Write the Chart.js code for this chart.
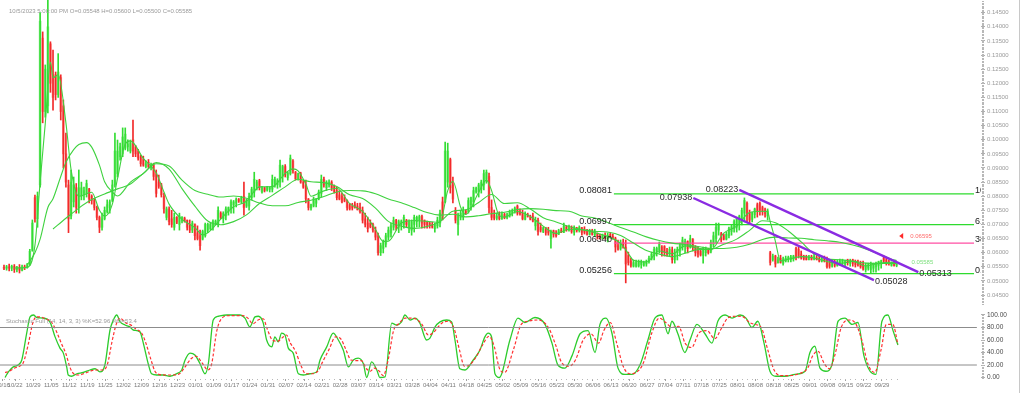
<!DOCTYPE html>
<html><head><meta charset="utf-8">
<script src="https://cdn.jsdelivr.net/npm/chart.js@4.4.1/dist/chart.umd.min.js"></script>
<style>
html,body{margin:0;padding:0;background:#fff;width:1024px;height:393px;overflow:hidden;}
#wrap{position:relative;width:1024px;height:393px;}
#c1{position:absolute;left:0;top:0;}
#c2{position:absolute;left:0;top:305px;}
#edge{position:absolute;left:1019px;top:0;width:1px;height:393px;background:#c8c8c8;}
</style></head><body>
<div id="wrap"><canvas id="c1" width="1024" height="305"></canvas><canvas id="c2" width="1024" height="88"></canvas><div id="edge"></div></div>
<script>
// ---------------- DATA (prices in units of 0.0001) ----------------
const opens = [
548,545,550,545,552,540,548,538,550,548,
558,608,795,720,840,1360,1100,1120,1340,1230,
1230,1160,1220,1120,950,840,730,780,830,760,
800,810,810,825,800,785,760,725,690,720,
745,760,785,840,880,940,950,970,975,960,
1000,975,960,940,930,905,920,900,910,880,
850,840,800,725,755,720,690,725,700,712,
722,715,700,680,700,670,660,648,660,680,
685,690,700,700,740,720,730,745,755,770,
775,790,780,800,765,765,795,815,835,855,
815,830,822,825,825,845,840,850,870,905,
865,880,925,885,860,880,850,840,790,758,
765,775,790,810,860,830,840,850,835,820,
805,800,795,785,770,765,770,765,760,750,
720,705,705,700,680,660,600,615,630,655,
670,690,715,690,700,700,715,690,680,700,
710,715,728,715,710,705,700,685,695,705,
780,780,850,930,840,750,700,725,725,748,
745,770,780,815,815,825,840,860,870,760,
735,722,735,720,735,725,730,740,745,765,
745,740,718,735,725,730,695,715,690,675,
688,680,650,678,670,665,680,672,692,680,
690,672,688,678,688,680,675,665,675,663,
668,660,650,662,648,665,658,650,625,615,
635,620,590,570,552,552,553,558,555,560,
568,578,590,605,610,620,622,605,595,610,
575,600,605,620,630,640,620,648,622,615,
605,590,600,612,605,630,650,680,668,660,
648,660,675,685,690,705,720,740,775,740,
718,735,770,775,760,752,730,600,575,588,
565,580,562,570,575,575,578,615,612,595,
588,585,575,585,576,582,580,570,580,575,
565,552,565,555,560,565,560,575,562,575,
568,565,562,560,540,545,540,545,550,555,
560,582,575,568,555,565,554.8];
const highs = [
556,555,560,556,558,552,558,556,556,562,
612,716,804,815,1450,1382,1265,1520,1347,1318,
1240,1305,1230,1141,1024,857,893,868,845,893,
850,832,857,828,805,792,765,730,740,762,
787,787,857,1024,999,988,1042,1042,1000,999,
1070,980,966,945,942,925,930,917,917,893,
875,846,811,762,762,750,740,728,740,728,
726,716,716,712,702,695,680,680,705,705,
705,716,716,762,745,745,762,762,787,785,
794,792,800,850,790,811,832,885,857,860,
835,832,835,832,875,868,862,928,910,912,
885,946,930,888,882,885,857,857,792,772,
797,792,822,875,868,855,858,855,840,832,
820,811,805,787,775,775,780,775,776,762,
740,726,716,705,691,669,634,645,669,691,
705,726,718,716,716,733,718,716,716,733,
730,733,733,716,712,708,708,705,726,751,
797,992,988,935,868,760,740,751,762,752,
794,797,832,832,846,857,893,893,882,787,
751,740,745,745,740,740,751,755,762,769,
755,751,745,740,733,740,726,723,705,691,
690,690,680,680,678,683,687,705,696,698,
695,695,690,695,690,692,683,683,683,683,
670,666,666,670,670,670,666,655,645,645,
648,645,602,581,574,574,574,574,570,574,
588,602,620,620,638,625,625,615,620,620,
613,620,634,655,648,642,662,650,625,620,
615,620,620,615,645,673,705,705,672,666,
673,691,698,716,726,733,758,794,780,751,
744,758,776,780,765,758,755,605,595,591,
584,591,584,588,588,591,591,620,620,606,
591,591,591,591,595,591,588,588,588,584,
574,574,574,574,577,577,574,577,577,577,
574,574,570,570,563,563,567,563,567,570,
574,588,581,574,567,570,560];
const lows = [
540,538,535,536,530,532,528,535,540,545,
555,605,708,690,832,1060,1080,1095,1168,1105,
1141,1150,1070,900,832,671,720,762,740,740,
787,787,797,776,772,751,716,671,680,716,
740,740,780,832,868,928,940,964,960,953,
940,940,928,906,906,900,900,893,857,797,
828,797,740,716,698,690,680,703,680,705,
708,680,671,671,645,645,609,645,655,671,
680,680,698,691,720,705,716,733,740,740,
762,778,776,733,760,751,787,797,822,822,
811,815,818,815,815,832,828,832,850,868,
857,875,882,857,857,846,828,776,751,751,
762,762,787,797,832,820,832,820,811,787,
787,776,780,751,751,751,758,751,740,705,
691,673,688,673,645,591,590,599,620,645,
655,680,680,671,680,687,691,671,662,673,
691,691,687,687,687,687,687,673,687,691,
716,776,832,811,776,705,662,716,716,736,
740,751,762,811,797,811,822,846,740,716,
716,716,716,718,720,720,726,730,740,733,
733,716,716,726,716,709,680,662,673,671,
662,662,616,655,655,664,671,671,676,676,
669,662,673,673,662,666,662,662,662,657,
648,648,648,648,638,652,648,602,609,609,
616,493,556,549,549,549,549,545,552,552,
563,574,574,588,599,588,588,588,588,563,
563,574,588,609,599,599,616,606,588,584,
588,563,588,595,599,620,634,662,638,645,
645,652,662,673,673,680,698,709,709,705,
709,723,726,733,733,726,716,556,570,549,
563,563,556,567,567,567,570,574,581,577,
574,574,574,574,574,574,567,567,567,545,
545,549,549,552,556,556,552,556,552,552,
549,552,545,538,531,538,527,531,531,538,
545,563,556,556,552,552,550];
const closes = [
545,550,545,552,540,548,538,550,548,558,
605,705,720,800,1420,1100,1250,1400,1200,1150,
1160,1240,1100,950,850,720,850,840,760,830,
830,820,845,790,785,760,725,690,720,750,
770,780,840,960,960,975,1010,1020,985,990,
960,950,935,915,910,915,905,912,870,810,
835,805,755,755,710,700,725,708,730,725,
712,690,680,705,660,650,625,675,700,700,
700,710,712,750,725,740,755,760,780,780,
790,782,795,760,785,800,825,860,850,830,
830,820,832,830,860,860,855,910,905,875,
882,935,890,862,880,850,832,790,760,770,
790,790,815,860,840,850,850,830,815,795,
790,780,785,760,755,758,760,752,745,715,
700,685,692,680,655,600,625,640,660,680,
695,715,695,710,712,725,700,710,710,725,
725,728,705,700,698,695,690,700,715,740,
725,960,960,830,790,715,730,740,750,740,
785,795,820,828,840,850,880,885,760,725,
722,730,720,735,725,735,745,750,758,740,
738,720,735,728,718,712,715,675,680,688,
670,670,675,665,660,678,672,695,680,692,
675,690,678,690,672,672,665,676,665,675,
655,652,662,652,662,655,650,620,612,630,
618,560,565,555,565,565,566,568,565,570,
580,595,612,615,630,600,600,595,612,575,
600,612,625,645,640,615,650,620,600,595,
592,615,615,600,635,660,690,700,645,648,
665,685,692,710,720,728,750,785,730,715,
740,755,745,750,745,738,748,565,588,560,
578,565,578,580,583,585,588,585,590,582,
578,575,585,577,588,576,570,580,570,550,
552,565,555,568,572,575,570,565,572,562,
558,556,550,545,555,558,560,560,562,568,
572,570,565,560,562,555,558.5];

// moving averages: [bar, price*1e4]
const maFast = [[4,546],[9,548],[12,627],[14,850],[16,1058],[18,1274],[19,1220],[21,1230],[24,1060],[26,894],[29,800],[34,814],[37,750],[39,729],[42,772],[44,862],[47,985],[49,996],[54,934],[59,882],[62,815],[64,772],[69,718],[74,689],[77,663],[79,670],[84,719],[89,763],[94,782],[99,833],[104,834],[109,881],[112,897],[114,890],[117,843],[119,800],[124,819],[129,828],[134,774],[139,746],[144,682],[147,640],[149,641],[154,705],[159,714],[164,711],[169,708],[172,820],[174,853],[177,761],[179,735],[184,814],[187,857],[189,820],[192,731],[194,726],[199,746],[204,728],[209,694],[214,668],[219,683],[224,681],[229,671],[234,657],[239,633],[242,597],[244,573],[249,567],[254,606],[259,596],[264,624],[269,616],[274,611],[279,669],[284,694],[289,742],[294,747],[296,745],[297,709],[298,677],[299,640],[301,571],[304,577],[309,586],[314,581],[319,569],[324,562],[329,569],[334,553],[339,562],[344,566],[346,560]];
const maMid = [[9,556],[12,600],[14,648],[17,760],[19,791],[22,870],[24,920],[27,965],[29,983],[32,990],[34,974],[37,910],[39,851],[42,815],[44,801],[49,850],[54,880],[59,919],[64,896],[69,827],[74,765],[79,712],[84,699],[89,710],[94,734],[99,774],[104,803],[109,833],[114,860],[119,851],[124,848],[129,834],[134,805],[139,792],[144,758],[149,711],[154,694],[159,686],[164,693],[169,710],[174,747],[179,752],[184,778],[189,806],[194,774],[199,777],[204,755],[209,724],[214,709],[219,693],[224,682],[229,676],[234,673],[239,661],[244,634],[249,608],[254,595],[259,586],[264,598],[269,611],[274,612],[279,630],[284,648],[289,679],[294,713],[299,706],[304,677],[309,638],[314,596],[319,578],[324,575],[329,570],[334,563],[339,562],[346,562]];
const maSlow = [[19,684],[24,722],[29,758],[34,788],[39,808],[44,826],[49,843],[54,881],[59,915],[64,907],[69,857],[74,820],[79,807],[84,797],[89,801],[94,793],[99,776],[104,766],[109,766],[114,778],[119,786],[124,799],[129,815],[134,820],[139,819],[144,809],[149,790],[154,777],[159,760],[164,742],[169,733],[174,736],[179,727],[184,731],[189,738],[194,743],[199,753],[204,756],[209,754],[214,749],[219,747],[224,730],[229,723],[234,707],[239,689],[244,673],[249,656],[254,643],[259,634],[264,629],[269,622],[274,615],[279,615],[284,619],[289,630],[294,647],[299,655],[304,652],[309,651],[314,646],[319,642],[324,637],[329,627],[334,613],[339,595],[344,577],[346,572]];

// stochastic full (14,14,3,3): [bar, value]
const stochK = [[0.4,0],[1.7,9],[3.6,17],[5.5,20],[6.9,28],[8.8,71],[10.1,97],[11.4,100],[12.7,96],[15.2,95],[17.8,89],[19.8,65],[21.7,47],[23,39],[24.3,17],[24.9,4],[26.2,2],[28.2,6],[30.7,8],[33.3,12],[35.3,14],[37.2,9],[39.1,20],[41.1,76],[42.4,92],[43.7,100],[45,89],[46.9,84],[48.8,81],[50.1,76],[52.7,73],[54,55],[55.9,22],[57.2,6],[59.2,4],[61.7,4],[64.3,2],[66.9,6],[68.9,12],[70.2,28],[72.1,39],[74,36],[76,22],[77.9,6],[79.2,22],[81.1,92],[83.1,98],[86.3,100],[91.5,100],[93.4,95],[95.3,81],[97.3,97],[98.6,98],[100.5,87],[101.8,60],[103.8,49],[105,65],[106.3,57],[107.6,71],[108.9,68],[110.2,47],[112.1,39],[114.1,6],[116,4],[118.6,6],[121.2,9],[122.5,28],[125.1,49],[127.6,71],[129.6,60],[131.5,44],[133.5,17],[135.4,28],[137.3,31],[139.3,22],[140.6,0],[142.5,25],[144.5,12],[145.7,0],[147.7,1],[150.3,87],[152.2,84],[154.1,89],[155.4,100],[157.4,92],[159.3,95],[161.2,87],[163.8,60],[165.1,63],[167.1,81],[169,89],[171.6,92],[173.5,89],[174.8,60],[176.7,14],[178.7,12],[181.9,28],[184.5,44],[186.4,65],[187.7,71],[189,65],[190.3,6],[192,0],[196.1,60],[199.2,95],[201.9,88],[205.8,96],[209.7,85],[212.4,55],[214.7,20],[217.4,15],[220.2,35],[223.3,70],[226.4,75],[229.1,40],[231,85],[233.3,95],[235.7,70],[238,15],[240.7,5],[243.4,5],[246.5,20],[249.6,60],[252.3,95],[255,100],[257.4,70],[258.9,90],[261.2,70],[263.9,40],[265.9,60],[268.6,85],[271.7,70],[274.4,55],[276.7,90],[279.5,100],[282.2,95],[285.3,100],[287.6,95],[289.9,80],[292.2,90],[294.6,55],[296.9,10],[299.2,2],[302.7,2],[306.6,5],[310.5,10],[312.4,40],[314.3,50],[316.3,15],[318.6,10],[320.9,20],[323.3,90],[326,95],[328.7,85],[331,88],[333.3,35],[335.7,10],[338,5],[340.3,90],[342.6,100],[344.6,75],[346.5,52]];
const stochD = [[0.4,8],[2,10],[4,15],[6,18],[7.5,24],[9.5,55],[11,85],[12.5,97],[14,97],[16,94],[18.5,88],[20.5,72],[22.5,52],[24,38],[25.5,17],[27,6],[29,4],[31.5,7],[34,11],[36,12],[38,12],[40,20],[42,60],[43.5,85],[45,95],[47,88],[49.5,83],[51,78],[53.5,70],[55,55],[57,28],[58.5,10],[60,5],[63,4],[65.5,4],[68,6],[70,16],[72.5,30],[74.5,34],[77,22],[79,12],[80.5,22],[82.5,75],[84.5,95],[87.5,99],[92.5,99],[94.5,95],[96.5,86],[98.5,92],[100.5,94],[102,78],[104,60],[106,58],[108,64],[109.5,68],[111,55],[113,42],[115,20],[117,6],[119.5,6],[122,12],[123.5,25],[126,45],[128.5,65],[130.5,62],[132.5,45],[134.5,28],[136.5,27],[138.5,27],[140.5,14],[142,10],[143.5,15],[145.5,10],[147,3],[149,30],[151,75],[153,86],[155.5,95],[157.5,95],[160,93],[162,85],[164.5,68],[166.5,72],[168.5,82],[170.5,89],[172.5,90],[174.5,78],[176.5,45],[178.5,18],[180.5,20],[183,33],[185.5,52],[188,66],[190,50],[192,15],[194,8],[197.5,45],[200.5,85],[203,90],[207,92],[211,80],[214,50],[216,25],[219,18],[221.5,28],[224.5,60],[227.5,70],[230.5,55],[232.5,75],[235,88],[237.5,55],[240,18],[242.5,6],[245,8],[248,25],[251,70],[254,95],[256.5,88],[259,80],[261.5,82],[264,55],[266.5,48],[269.5,72],[272.5,75],[275.5,62],[278,78],[280.5,95],[283.5,98],[286.5,97],[289,88],[291,85],[293.5,80],[296,45],[298.5,12],[301,3],[304,3],[308,6],[311.5,15],[313.5,35],[315.5,42],[318,22],[320,14],[322,35],[324.5,80],[327.5,92],[330,87],[332.5,60],[335,20],[337.5,8],[340,45],[342,85],[344.5,85],[346.5,53.4]];

// fibonacci retracement drawn on the chart
const fibLevels = [0.08081, 0.06997, 0.06340, 0.05256];
const fibNames = ['100.0', '61.8', '38.2', '0.0'];
const fibColors = ['#2edb2e', '#2edb2e', '#ff4fa3', '#2edb2e'];
const fibStartBar = 236.4, fibEndBar = 376;

// parallel trend channel
const trendStartBar = [267.2, 285], trendStartPrice = [0.07938, 0.08223];
const trendEndBar = [337.2, 354.4], trendEndPrice = [0.05028, 0.05313];

// markers
const alertBar = 347, alertPrice = 0.06595;
const lastLabelBar = 351.8, lastPrice = 0.05585;

// axis ticks and labels
const priceTicks = [0.045,0.05,0.055,0.06,0.065,0.07,0.075,0.08,0.085,0.09,0.095,0.1,0.105,0.11,0.115,0.12,0.125,0.13,0.135,0.14,0.145];
const stochTicks = [0,20,40,60,80,100];
const dateLabels = ['10/16','10/22','10/29','11/05','11/12','11/19','11/25','12/02','12/09','12/16','12/23','01/01','01/09','01/17','01/24','01/31','02/07','02/14','02/21','02/28','03/07','03/14','03/21','03/28','04/04','04/11','04/18','04/25','05/02','05/09','05/16','05/23','05/30','06/06','06/13','06/20','06/27','07/04','07/11','07/18','07/25','08/01','08/08','08/18','08/25','09/01','09/08','09/15','09/22','09/29'];
const dateLabelBars = [-0.6,4.3,11.3,18.3,25.3,32.3,39.3,46.3,53.3,60.3,67.3,74.3,81.3,88.3,95.3,102.3,109.3,116.3,123.3,130.3,137.3,144.3,151.3,158.3,165.3,172.3,179.3,186.3,193.3,200.3,207.3,214.3,221.3,228.3,235.3,242.3,249.3,256.3,263.3,270.3,277.3,284.3,291.3,298.3,305.3,312.3,319.3,326.3,333.3,340.3];

const headerText = '10/5/2023 5:00:00 PM O=0.05548 H=0.05600 L=0.05500 C=0.05585';
const stochHeader = 'Stochastic Full (14, 14, 3, 3) %K=52.96 %D=53.4';

// ---------------- BUILD ----------------
const X_MIN = -1.55, X_MAX = 378.7;
const P = v => v / 10000;
const isUp = i => closes[i] >= opens[i];
const wickData = closes.map((c, i) => ({x: i, y: [P(lows[i]), P(highs[i])]}));
const bodyData = closes.map((c, i) => ({x: i, y: [P(Math.min(opens[i], c)), P(Math.max(opens[i], c))]}));
const maLine = (arr) => arr.map(([b, v]) => ({x: b, y: P(v)}));
const SMALL = '"Liberation Sans", Arial, sans-serif';

const datasets = [
  {type: 'bar', data: bodyData, grouped: false, barThickness: 2, order: 3,
   backgroundColor: ctx => isUp(ctx.dataIndex) ? '#93ee93' : '#ff9a9a', borderWidth: 0},
  {type: 'bar', data: wickData, grouped: false, barThickness: 1, order: 2,
   backgroundColor: ctx => isUp(ctx.dataIndex) ? '#33dd33' : '#f22a2a', borderWidth: 0},
];
[maFast, maMid, maSlow].forEach(m => datasets.push({type: 'line', data: maLine(m), borderColor: '#3fd23f', borderWidth: 1.1,
  pointRadius: 0, cubicInterpolationMode: 'monotone', order: 1}));
fibLevels.forEach((lv, i) => datasets.push({type: 'line', data: [{x: fibStartBar, y: lv}, {x: fibEndBar, y: lv}],
  borderColor: fibColors[i], borderWidth: 1.3, pointRadius: 0, order: 1}));
trendStartBar.forEach((b, i) => datasets.push({type: 'line', data: [{x: b, y: trendStartPrice[i]}, {x: trendEndBar[i], y: trendEndPrice[i]}],
  borderColor: '#8a2be2', borderWidth: 2.4, pointRadius: 0, order: 0}));

const mainOverlay = {
  id: 'mainOverlay',
  afterDatasetsDraw(chart) {
    const {ctx, chartArea: a, scales: {x, y}} = chart;
    ctx.save();
    ctx.fillStyle = '#b8b8b8';
    for (let v = 0.0420; v <= 0.1495; v += 0.0005) {
      ctx.fillRect(a.right + 1, Math.round(y.getPixelForValue(v)), 2, 1);
    }
    ctx.font = '6px ' + SMALL; ctx.fillStyle = '#9a9a9a'; ctx.textAlign = 'left'; ctx.textBaseline = 'middle';
    ctx.fillText(headerText, 9, 11);
    ctx.save();
    ctx.beginPath(); ctx.rect(a.left, a.top, a.right - a.left, a.bottom - a.top); ctx.clip();
    ctx.font = '9px ' + SMALL; ctx.fillStyle = '#222'; ctx.textBaseline = 'alphabetic';
    fibLevels.forEach((lv, i) => {
      const py = y.getPixelForValue(lv);
      ctx.textAlign = 'right'; ctx.fillText(lv.toFixed(5), x.getPixelForValue(fibStartBar) - 2, py - 1);
      ctx.textAlign = 'left'; ctx.fillText(fibNames[i], x.getPixelForValue(fibEndBar) + 1, py - 1);
    });
    ctx.restore();
    ctx.font = '9px ' + SMALL; ctx.fillStyle = '#2a2a2a'; ctx.textBaseline = 'middle';
    trendStartBar.forEach((b, i) => {
      ctx.textAlign = 'right';
      ctx.fillText(trendStartPrice[i].toFixed(5), x.getPixelForValue(b) - 1, y.getPixelForValue(trendStartPrice[i]));
      ctx.textAlign = 'left';
      ctx.fillText(trendEndPrice[i].toFixed(5), x.getPixelForValue(trendEndBar[i]) + 1, y.getPixelForValue(trendEndPrice[i]) + 1);
    });
    const ax = x.getPixelForValue(alertBar), ay = y.getPixelForValue(alertPrice);
    ctx.fillStyle = '#ff2a2a';
    ctx.beginPath(); ctx.moveTo(ax, ay); ctx.lineTo(ax + 4, ay - 3); ctx.lineTo(ax + 4, ay + 3); ctx.closePath(); ctx.fill();
    ctx.font = '6px ' + SMALL; ctx.fillStyle = '#ff6a6a'; ctx.textAlign = 'left';
    ctx.fillText(alertPrice.toFixed(5), ax + 11, ay);
    ctx.fillStyle = '#7fe07f';
    ctx.fillText(lastPrice.toFixed(5), x.getPixelForValue(lastLabelBar), y.getPixelForValue(lastPrice) - 2);
    ctx.restore();
  }
};

new Chart(document.getElementById('c1'), {
  type: 'bar',
  data: {datasets},
  options: {
    responsive: false, animation: false, events: [],
    layout: {padding: 0},
    plugins: {legend: {display: false}, tooltip: {enabled: false}},
    scales: {
      x: {type: 'linear', min: X_MIN, max: X_MAX, offset: false, display: false},
      y: {type: 'linear', position: 'right', min: 0.04147, max: 0.1495,
          afterFit(s) { s.width = 43; s.paddingTop = 0; s.paddingBottom = 0; },
          afterBuildTicks(s) { s.ticks = priceTicks.map(v => ({value: v})); },
          ticks: {autoSkip: false, callback: v => Number(v).toFixed(5), font: {size: 6, family: SMALL}, color: '#9a9a9a', padding: 2},
          grid: {drawOnChartArea: false, tickLength: 4, color: '#b0b0b0'},
          border: {display: false}}
    }
  },
  plugins: [mainOverlay]
});

const stochOverlay = {
  id: 'stochOverlay',
  afterDatasetsDraw(chart) {
    const {ctx, chartArea: a, scales: {x, y}} = chart;
    ctx.save();
    ctx.fillStyle = '#b8b8b8';
    for (let v = 0; v <= 100.1; v += 2.5) ctx.fillRect(a.right + 1, Math.round(y.getPixelForValue(v)), 2, 1);
    for (let b = 0; b <= 346; b += 2) ctx.fillRect(Math.round(x.getPixelForValue(b)), a.bottom, 1, 1);
    ctx.font = '6px ' + SMALL; ctx.fillStyle = '#9a9a9a'; ctx.textAlign = 'left'; ctx.textBaseline = 'middle';
    ctx.fillText(stochHeader, 6, 16.5);
    ctx.restore();
  }
};

const kLine = stochK.map(([b, v]) => ({x: b, y: v}));
const dLine = stochD.map(([b, v]) => ({x: b, y: v}));
new Chart(document.getElementById('c2'), {
  type: 'line',
  data: {datasets: [
    {data: [{x: X_MIN, y: 80}, {x: 377.1, y: 80}], borderColor: '#8c8c8c', borderWidth: 1, pointRadius: 0},
    {data: [{x: X_MIN, y: 20}, {x: 377.1, y: 20}], borderColor: '#8c8c8c', borderWidth: 1, pointRadius: 0},
    {data: dLine, borderColor: '#ff3030', borderWidth: 1.2, borderDash: [3, 2], pointRadius: 0, cubicInterpolationMode: 'monotone'},
    {data: kLine, borderColor: '#2ccc2c', borderWidth: 1.3, pointRadius: 0, cubicInterpolationMode: 'monotone'}
  ]},
  options: {
    responsive: false, animation: false, events: [],
    layout: {padding: 0},
    plugins: {legend: {display: false}, tooltip: {enabled: false}},
    scales: {
      x: {type: 'linear', min: X_MIN, max: X_MAX, offset: false,
          afterFit(s) { s.height = 14; s.paddingLeft = 0; s.paddingRight = 0; },
          afterBuildTicks(s) { s.ticks = dateLabelBars.map(v => ({value: v})); },
          ticks: {autoSkip: false, maxRotation: 0, minRotation: 0, callback: (v, i) => dateLabels[i],
                  font: {size: 6, family: SMALL}, color: '#7a7a7a', padding: 1},
          grid: {drawOnChartArea: false, tickLength: 2, color: '#a0a0a0'},
          border: {display: false}},
      y: {type: 'linear', position: 'right', min: -2.4, max: 116,
          afterFit(s) { s.width = 43; s.paddingTop = 0; s.paddingBottom = 0; },
          afterBuildTicks(s) { s.ticks = stochTicks.map(v => ({value: v})); },
          ticks: {autoSkip: false, callback: v => Number(v).toFixed(2), font: {size: 6.5, family: SMALL}, color: '#4a4a4a', padding: 2},
          grid: {drawOnChartArea: false, tickLength: 4, color: '#b0b0b0'},
          border: {display: false}}
    }
  },
  plugins: [stochOverlay]
});
</script>
</body></html>
